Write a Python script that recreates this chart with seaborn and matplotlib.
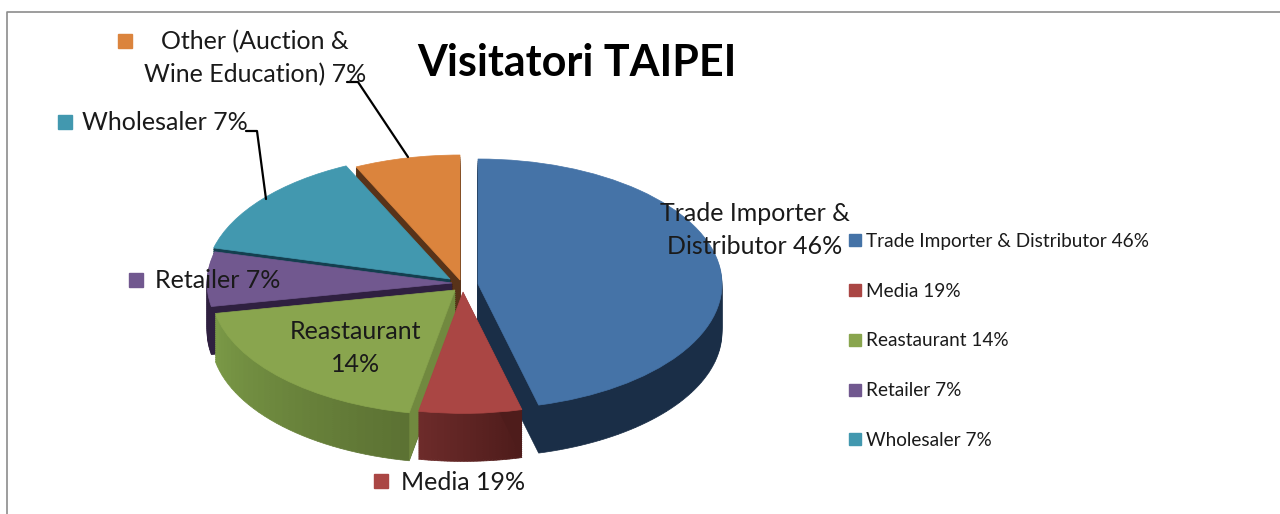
import matplotlib
matplotlib.use("Agg")
import matplotlib.pyplot as plt
import matplotlib.colors as mcolors
from matplotlib.lines import Line2D
import numpy as np
import seaborn as sns

categories = ["Trade Importer & Distributor", "Media", "Reastaurant", "Retailer", "Wholesaler", "Other (Auction & Wine Education)"]
printed_pct = [46, 19, 14, 7, 7, 7]
# the drawn slices do not follow the printed numbers, these are read off the slice angles
drawn_pct = [46, 7, 19, 7, 14, 7]

top_colors = ["#4573a7", "#aa4644", "#89a54e", "#71588f", "#4298af", "#db843d"]
side_start = ["#1a2e47", "#4e1c1b", "#5c7233", "#2f2040", "#143f4f", "#583319"]
side_end = ["#1a2e47", "#6d2b2a", "#7b9a47", "#2f2040", "#143f4f", "#583319"]
start_face = ["#1a2e47", "#4e1c1b", "#71893f", "#2f2040", "#143f4f", "#583319"]

# layout in pixels of the 1280x514 picture
apex_px = [(478, 284), (463, 292), (455, 290), (452, 283), (450, 279), (460, 280)]
radius_px = [244, 237, 244, 245, 244, 244]
draw_order = [5, 4, 3, 2, 0, 1]
y_squash = 125 / 244
depth_px = 48
n_strips = 32

sns.set_theme(style="white")
plt.rcParams["font.family"] = ["Lato", "DejaVu Sans"]
palette = sns.color_palette(top_colors)


def py(y):
    return (514 - y) / y_squash


def blend(c1, c2, t):
    a = np.array(mcolors.to_rgb(c1))
    b = np.array(mcolors.to_rgb(c2))
    return tuple(a + (b - a) * t)


def rim(cx, cy, r, angle):
    return cx + r * np.sin(np.radians(angle)), cy + r * np.cos(np.radians(angle))


def seal(wedges):
    # hairline in the same colour so no white seams show between the wedges
    for w in wedges:
        w.set_edgecolor(w.get_facecolor())
        w.set_linewidth(0.5)


fig = plt.figure(figsize=(12.8, 5.14), dpi=100)
ax = fig.add_axes([0, 0, 1, 1])

starts = np.cumsum([0] + drawn_pct[:-1])

for i in draw_order:
    cx, cy = apex_px[i][0], py(apex_px[i][1])
    r = radius_px[i]
    a0 = 90 - starts[i] * 3.6
    frac = drawn_pct[i] / 100
    depth = depth_px / y_squash

    strip_colors = [blend(side_start[i], side_end[i], t) for t in np.linspace(0, 1, n_strips)]
    for d in np.arange(depth, 0, -2 / y_squash):
        res = ax.pie([frac / n_strips] * n_strips, colors=strip_colors, startangle=a0, counterclock=False,
                     normalize=False, center=(cx, cy - d), radius=r, labeldistance=None)
        seal(res[0])

    # flat face along the first cut of the slice
    ex, ey = rim(cx, cy, r, starts[i] * 3.6)
    ax.fill([cx, ex, ex, cx], [cy, ey, ey - depth, cy - depth], color=start_face[i], lw=0, zorder=1)

    res = ax.pie([frac], colors=[palette[i]], startangle=a0, counterclock=False, normalize=False,
                 center=(cx, cy), radius=r, labeldistance=None)
    seal(res[0])

ax.set_aspect("auto")
ax.set_xlim(0, 1280)
ax.set_ylim(0, 514 / y_squash)
ax.set_axis_on()
ax.set_xticks([])
ax.set_yticks([])
for s in ax.spines.values():
    s.set_visible(False)

# chart frame, cut off at the bottom and the right
ax.plot([7, 7, 1280], [py(514), py(12), py(12)], color="#8c8c8c", lw=1.2, zorder=3)

ax.text(577, py(63), "Visitatori TAIPEI", fontsize=31, fontweight="bold", color="black", ha="center", va="center", zorder=6)

data_labels = [
    (755, 230, f"Trade Importer &\nDistributor {printed_pct[0]}%"),
    (463, 482, f"Media {printed_pct[1]}%"),
    (356, 348, f"Reastaurant\n{printed_pct[2]}%"),
    (218, 281, f"Retailer {printed_pct[3]}%"),
    (165, 123, f"Wholesaler {printed_pct[4]}%"),
    (255, 58, f"Other (Auction &\nWine Education) {printed_pct[5]}%"),
]
for x, y, txt in data_labels:
    ax.text(x, py(y), txt, fontsize=18, color="#1a1a1a", ha="center", va="center", linespacing=1.5, zorder=6)

for key_x, key_y, key_i in [(381, 481, 1), (136, 280, 3), (65, 122, 4), (125, 41, 5)]:
    ax.plot([key_x], [py(key_y)], marker="s", ms=10.5, color=palette[key_i], ls="none", zorder=6)

# leader lines
ax.plot([347, 358, 408], [py(82), py(82), py(157)], color="black", lw=1.6, zorder=5)
ax.plot([246, 257, 266], [py(131), py(131), py(199)], color="black", lw=1.6, zorder=5)

handles = [Line2D([], [], marker="s", ls="none", ms=8.5, color=palette[i],
                  label=f"{categories[i]} {printed_pct[i]}%") for i in range(5)]
ax.legend(handles=handles, loc="upper left", bbox_to_anchor=(849 / 1280, 1 - 233 / 514), frameon=False,
          fontsize=13.7, labelspacing=1.72, handlelength=0.6, handletextpad=0.3, borderpad=0, borderaxespad=0,
          labelcolor="#1a1a1a")

fig.savefig("out.png", dpi=100)
